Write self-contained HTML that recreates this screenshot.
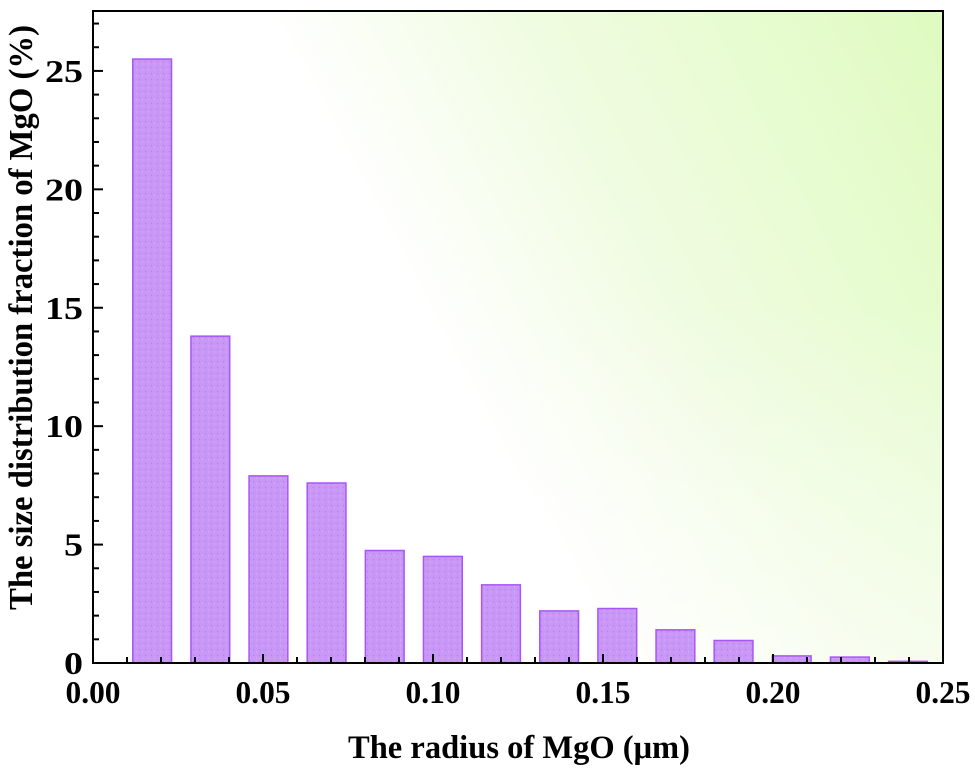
<!DOCTYPE html>
<html><head><meta charset="utf-8"><style>
html,body{margin:0;padding:0;background:#fff;}
svg text{font-family:"Liberation Serif",serif;font-weight:bold;fill:#000;}
</style></head><body>
<svg id="chart" width="975" height="767" viewBox="0 0 975 767" xmlns="http://www.w3.org/2000/svg">
<defs>
<linearGradient id="bg" x1="430" y1="330" x2="943" y2="60" gradientUnits="userSpaceOnUse">
<stop offset="0" stop-color="#ffffff"/>
<stop offset="0.4" stop-color="#f0fce1"/>
<stop offset="1" stop-color="#e0fbc2"/>
</linearGradient>
<linearGradient id="fadeBottom" x1="0" y1="300" x2="0" y2="663" gradientUnits="userSpaceOnUse">
<stop offset="0" stop-color="#ffffff" stop-opacity="0"/>
<stop offset="1" stop-color="#ffffff" stop-opacity="0.5"/>
</linearGradient>
<pattern id="dots" width="6" height="6" patternUnits="userSpaceOnUse">
<rect width="6" height="6" fill="#c998f6"/>
<circle cx="1.5" cy="1.5" r="0.7" fill="#b480ee"/>
<circle cx="4.5" cy="4" r="0.6" fill="#dab4fb"/>
</pattern>
</defs>
<rect x="93" y="11" width="850" height="652" fill="url(#bg)"/>
<rect x="93" y="11" width="850" height="652" fill="url(#fadeBottom)"/>
<g id="bars"></g>
<g id="axes"></g>
<text x="348" y="758" font-size="33" textLength="342" lengthAdjust="spacingAndGlyphs">The radius of MgO (μm)</text>
<text transform="translate(32 610) rotate(-90)" font-size="34" textLength="585" lengthAdjust="spacingAndGlyphs">The size distribution fraction of  MgO (%)</text>
</svg>
<script>
const binCenters=[0.0174,0.0345,0.0516,0.0687,0.0858,0.1029,0.12,0.1371,0.1542,0.1713,0.1884,0.2055,0.2226,0.2397];
const fractions=[25.5,13.8,7.9,7.6,4.75,4.5,3.3,2.2,2.3,1.4,0.95,0.3,0.25,0.07];
const xTicks=[0,0.05,0.10,0.15,0.20,0.25];
const xTickLabels=["0.00","0.05","0.10","0.15","0.20","0.25"];
const yTicks=[0,5,10,15,20,25];
const yTickLabels=["0","5","10","15","20","25"];
const barWidth=0.0114;
const X0=93,X1=943,Y0=663,Y1=11,xMax=0.25,yMax=27.53;
const sx=v=>X0+v/xMax*(X1-X0);
const sy=v=>Y0-v/yMax*(Y0-Y1);
const NS="http://www.w3.org/2000/svg";
function mk(tag,attrs,parent){const e=document.createElementNS(NS,tag);for(const k in attrs)e.setAttribute(k,attrs[k]);parent.appendChild(e);return e;}
const bars=document.getElementById('bars');
binCenters.forEach((c,i)=>{
 const x=sx(c-barWidth/2),w=sx(c+barWidth/2)-x,y=sy(fractions[i]);
 const r=mk('rect',{x:x,y:y,width:w,height:Y0-y,fill:'url(#dots)',stroke:'#a855f7','stroke-width':1.5},bars);
 
 
});
const ax=document.getElementById('axes');
const frame=mk('rect',{x:X0,y:Y1,width:X1-X0,height:Y0-Y1,fill:'none',stroke:'#000','stroke-width':2},ax);


for(let k=1;k<25;k++){const x=sx(k*0.01);const major=k%5===0;
 mk('line',{x1:x,x2:x,y1:Y0,y2:Y0-(major?9:6),stroke:'#000','stroke-width':2},ax);}
for(let k=1;k<28;k++){const y=sy(k);const major=k%5===0;
 mk('line',{x1:X0,x2:X0+(major?10:6),y1:y,y2:y,stroke:'#000','stroke-width':2},ax);}
xTicks.forEach((v,i)=>{const s=xTickLabels[i];
 const t=mk('text',{x:sx(v)-27.5,y:703,'font-size':32,textLength:55,lengthAdjust:'spacingAndGlyphs'},ax);t.textContent=s;
 
 });
yTicks.forEach((v,i)=>{const s=yTickLabels[i];const w=s.length===1?19:38;
 const t=mk('text',{x:83-w,y:sy(v)+11,'font-size':32,textLength:w,lengthAdjust:'spacingAndGlyphs'},ax);t.textContent=s;
 
 });
</script>
</body></html>
